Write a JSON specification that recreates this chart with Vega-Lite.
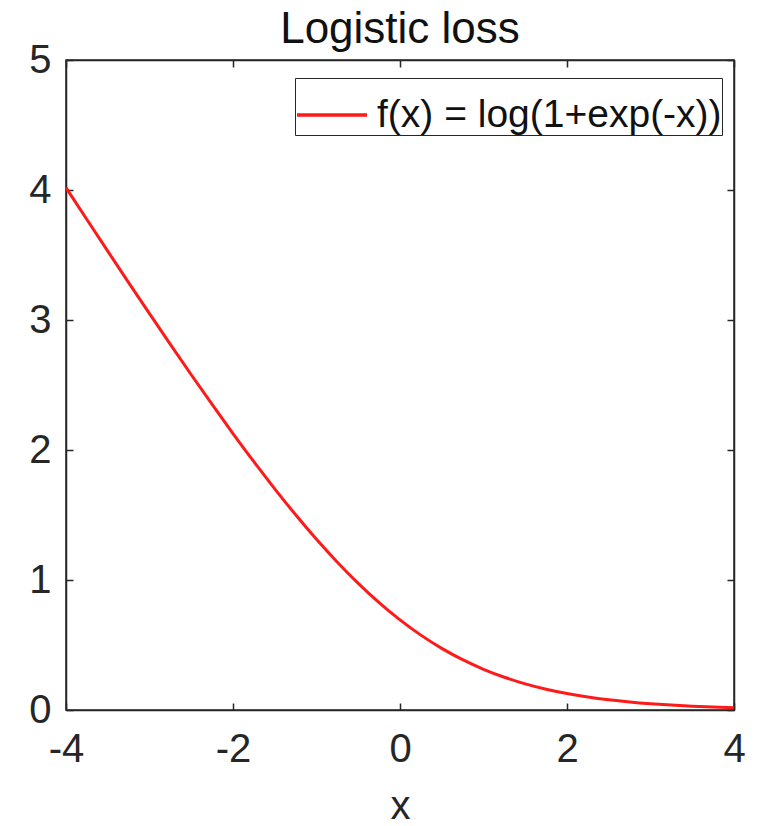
{
  "$schema": "https://vega.github.io/schema/vega-lite/v6.json",
  "autosize": "none",
  "width": 668,
  "height": 650,
  "padding": {"left": 66, "top": 60, "right": 35, "bottom": 116},
  "background": "white",
  "config": {
    "font": "Liberation Sans",
    "view": {"stroke": "#262626", "strokeWidth": 1.5},
    "axis": {"grid": false, "domainColor": "#262626", "tickColor": "#262626", "labelColor": "#262626", "titleColor": "#262626", "domainWidth": 1.5, "tickWidth": 1.5}
  },
  "title": {"text": "Logistic loss", "fontSize": 44, "fontWeight": "normal", "color": "#111", "offset": -12, "anchor": "middle"},
  "data": {"values": [
    {"x": -4, "y": 4.0181, "s": "f(x) = log(1+exp(-x))"},
    {"x": -3.75, "y": 3.7733, "s": "f(x) = log(1+exp(-x))"},
    {"x": -3.5, "y": 3.5297, "s": "f(x) = log(1+exp(-x))"},
    {"x": -3.25, "y": 3.2881, "s": "f(x) = log(1+exp(-x))"},
    {"x": -3, "y": 3.0486, "s": "f(x) = log(1+exp(-x))"},
    {"x": -2.75, "y": 2.8120, "s": "f(x) = log(1+exp(-x))"},
    {"x": -2.5, "y": 2.5789, "s": "f(x) = log(1+exp(-x))"},
    {"x": -2.25, "y": 2.3502, "s": "f(x) = log(1+exp(-x))"},
    {"x": -2, "y": 2.1269, "s": "f(x) = log(1+exp(-x))"},
    {"x": -1.75, "y": 1.9102, "s": "f(x) = log(1+exp(-x))"},
    {"x": -1.5, "y": 1.7014, "s": "f(x) = log(1+exp(-x))"},
    {"x": -1.25, "y": 1.5019, "s": "f(x) = log(1+exp(-x))"},
    {"x": -1, "y": 1.3133, "s": "f(x) = log(1+exp(-x))"},
    {"x": -0.75, "y": 1.1369, "s": "f(x) = log(1+exp(-x))"},
    {"x": -0.5, "y": 0.9741, "s": "f(x) = log(1+exp(-x))"},
    {"x": -0.25, "y": 0.8259, "s": "f(x) = log(1+exp(-x))"},
    {"x": 0, "y": 0.6931, "s": "f(x) = log(1+exp(-x))"},
    {"x": 0.25, "y": 0.5759, "s": "f(x) = log(1+exp(-x))"},
    {"x": 0.5, "y": 0.4741, "s": "f(x) = log(1+exp(-x))"},
    {"x": 0.75, "y": 0.3869, "s": "f(x) = log(1+exp(-x))"},
    {"x": 1, "y": 0.3133, "s": "f(x) = log(1+exp(-x))"},
    {"x": 1.25, "y": 0.2519, "s": "f(x) = log(1+exp(-x))"},
    {"x": 1.5, "y": 0.2014, "s": "f(x) = log(1+exp(-x))"},
    {"x": 1.75, "y": 0.1602, "s": "f(x) = log(1+exp(-x))"},
    {"x": 2, "y": 0.1269, "s": "f(x) = log(1+exp(-x))"},
    {"x": 2.25, "y": 0.1002, "s": "f(x) = log(1+exp(-x))"},
    {"x": 2.5, "y": 0.0789, "s": "f(x) = log(1+exp(-x))"},
    {"x": 2.75, "y": 0.0620, "s": "f(x) = log(1+exp(-x))"},
    {"x": 3, "y": 0.0486, "s": "f(x) = log(1+exp(-x))"},
    {"x": 3.25, "y": 0.0381, "s": "f(x) = log(1+exp(-x))"},
    {"x": 3.5, "y": 0.0297, "s": "f(x) = log(1+exp(-x))"},
    {"x": 3.75, "y": 0.0233, "s": "f(x) = log(1+exp(-x))"},
    {"x": 4, "y": 0.0181, "s": "f(x) = log(1+exp(-x))"}
  ]},
  "layer": [
    {
      "mark": {"type": "line", "strokeWidth": 3, "interpolate": "monotone", "clip": true},
      "encoding": {
        "x": {"field": "x", "type": "quantitative", "scale": {"domain": [-4, 4], "nice": false, "zero": false},
          "axis": {"orient": "bottom", "values": [-4, -2, 0, 2, 4], "labelExpr": "toString(datum.value)", "tickSize": -7, "labelPadding": 26, "labelFontSize": 40, "title": "x", "titleFontSize": 40, "titleFontWeight": "normal", "titlePadding": 17, "labelFlush": false}},
        "y": {"field": "y", "type": "quantitative", "scale": {"domain": [0, 5], "nice": false, "zero": false},
          "axis": {"orient": "left", "values": [0, 1, 2, 3, 4, 5], "labelExpr": "toString(datum.value)", "tickSize": -7, "labelPadding": 22, "labelFontSize": 40, "title": null, "labelFlush": false}},
        "color": {"field": "s", "type": "nominal", "scale": {"range": ["#ff1a1a"]},
          "legend": {"title": null, "orient": "none", "legendX": 229, "legendY": 18, "symbolType": "stroke", "symbolSize": 4900, "symbolStrokeWidth": 3.5, "labelFontSize": 39, "labelLimit": 0, "labelColor": "#111", "strokeColor": "#262626", "fillColor": "white", "padding": 0, "labelOffset": 8, "offset": 0}}
      }
    },
    {
      "mark": {"type": "line", "opacity": 0},
      "encoding": {
        "x": {"field": "x", "type": "quantitative", "scale": {"domain": [-4, 4], "nice": false, "zero": false},
          "axis": {"orient": "top", "values": [-4, -2, 0, 2, 4], "tickSize": -7, "labels": false, "title": null}},
        "y": {"field": "y", "type": "quantitative", "scale": {"domain": [0, 5], "nice": false, "zero": false},
          "axis": {"orient": "right", "values": [0, 1, 2, 3, 4, 5], "tickSize": -7, "labels": false, "title": null}}
      }
    }
  ],
  "resolve": {"axis": {"x": "independent", "y": "independent"}}
}
